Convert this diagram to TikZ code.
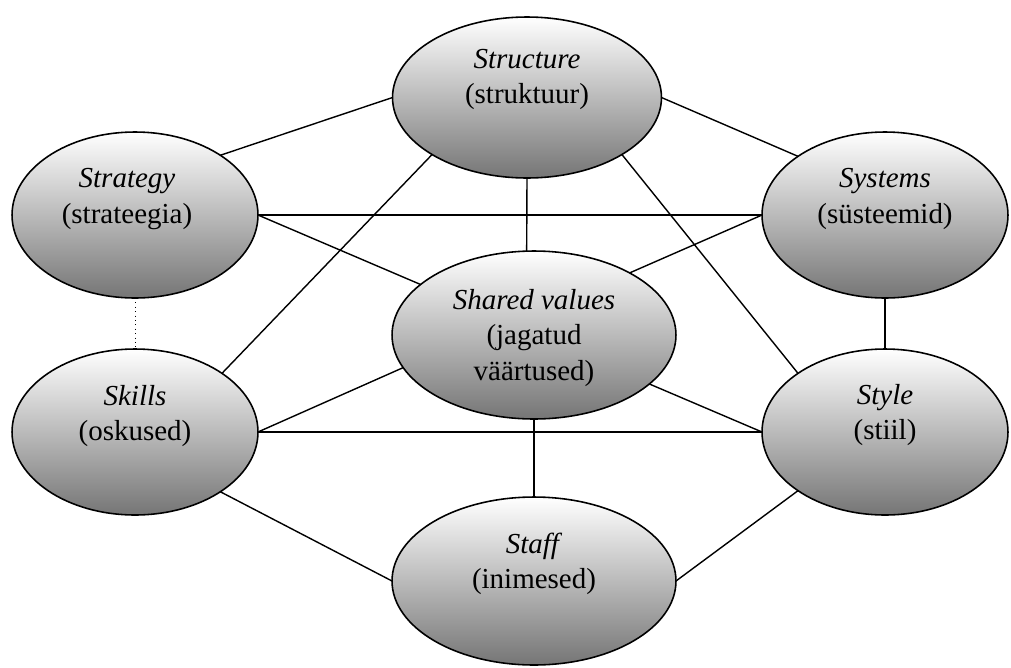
\documentclass[tikz,border=0pt]{standalone}
\usepackage{fontspec}
\setmainfont{Liberation Serif}
\usetikzlibrary{shapes.geometric}

\tikzset{
  elem/.style={ellipse, draw, line width=0.9pt, top color=white, bottom color=black!54,
    minimum width=4.92cm, minimum height=3.32cm, inner sep=0pt, outer sep=0pt},
  wide/.style={minimum width=5.68cm, minimum height=3.36cm},
  elemtext/.style={align=center, font=\fontsize{16.5}{20}\selectfont, inner sep=0pt},
  link/.style={line width=0.8pt},
}

\begin{document}
\begin{tikzpicture}[x=0.02cm, y=-0.02cm]
  \useasboundingbox (0,0) rectangle (1011,667);

  \node[elem, minimum width=5.38cm, minimum height=3.22cm,
    label={[elemtext,yshift=0.36cm]center:{\textit{Structure}\\(struktuur)}}] (structure) at (527,97.5) {};
  \node[elem, label={[elemtext,yshift=0.32cm,xshift=-0.16cm]center:{\textit{Strategy}\\(strateegia)}}] (strategy) at (135,215) {};
  \node[elem, label={[elemtext,yshift=0.32cm]center:{\textit{Systems}\\(süsteemid)}}] (systems) at (885,215) {};
  \node[elem, wide, label={[elemtext,yshift=-0.06cm]center:{\textit{Shared values}\\(jagatud\\väärtused)}}] (shared) at (534,335) {};
  \node[elem, label={[elemtext,yshift=0.32cm]center:{\textit{Skills}\\(oskused)}}] (skills) at (135,432) {};
  \node[elem, label={[elemtext,yshift=0.34cm]center:{\textit{Style}\\(stiil)}}] (style) at (885,432) {};
  \node[elem, wide, label={[elemtext,yshift=0.34cm]center:{\textit{Staff}\\(inimesed)}}] (staff) at (534,581) {};

  % connectors
  \draw[link] (strategy.35) -- (structure.west);
  \draw[link] (structure.east) -- (systems.146);
  \draw[link] (structure.south) -- (shared.95);
  \draw[link] (structure.211) -- (skills.34);
  \draw[link] (structure.329) -- (style.146);
  \draw[link] (strategy.east) -- (systems.west);
  \draw[link] (strategy.east) -- (shared.156);
  \draw[link] (systems.west) -- (shared.33);
  \draw[link] (systems.south) -- (style.north);
  \draw[line width=0.5pt, dotted] (strategy.south) -- (skills.north);
  \draw[link] (skills.east) -- (shared.194);
  \draw[link] (skills.east) -- (style.west);
  \draw[link] (shared.337) -- (style.west);
  \draw[link] (shared.south) -- (staff.north);
  \draw[link] (skills.325) -- (staff.west);
  \draw[link] (style.214) -- (staff.east);
\end{tikzpicture}
\end{document}
